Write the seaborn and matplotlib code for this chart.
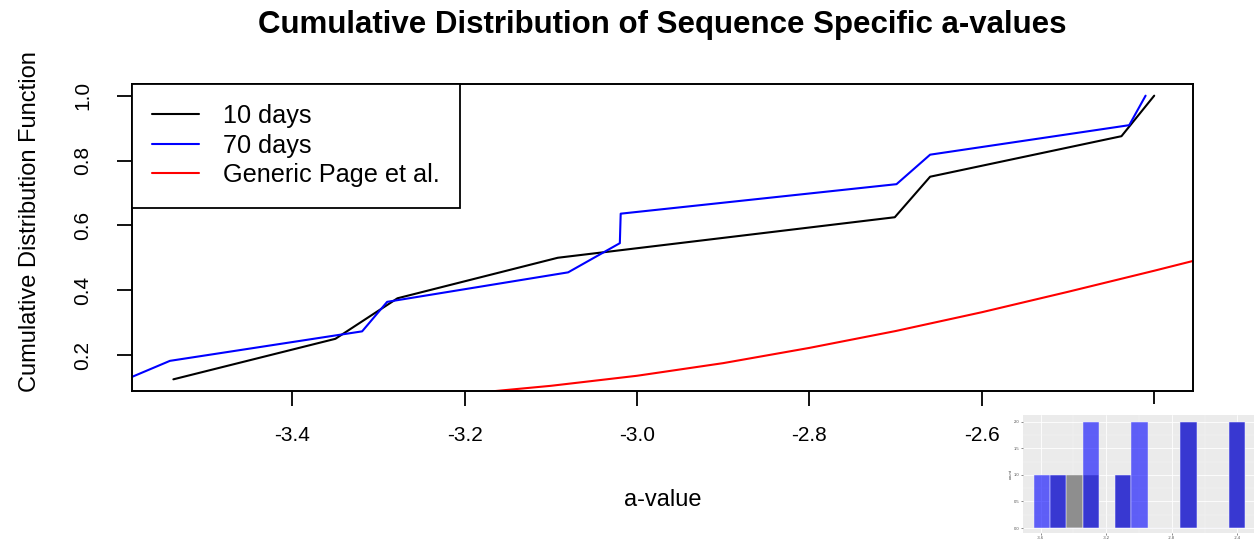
import numpy as np
import pandas as pd
import matplotlib
matplotlib.use("Agg")
import matplotlib.pyplot as plt
import seaborn as sns

# ---------------- data ----------------
title = "Cumulative Distribution of Sequence Specific a-values"
x_label = "a-value"
y_label = "Cumulative Distribution Function"
legend_labels = ["10 days", "70 days", "Generic Page et al."]

days10_a = [-3.538, -3.350, -3.278, -3.092, -2.701, -2.660, -2.438, -2.400]
days10_cdf = [0.125, 0.250, 0.375, 0.500, 0.625, 0.750, 0.875, 1.000]

days70_a = [-3.623, -3.542, -3.319, -3.290, -3.080, -3.020, -3.019,
            -2.699, -2.660, -2.429, -2.410]
days70_cdf = [0.091, 0.182, 0.273, 0.364, 0.455, 0.545, 0.636,
              0.727, 0.818, 0.909, 1.000]

page_a = [-3.25, -3.20, -3.10, -3.00, -2.90, -2.80, -2.70, -2.60, -2.50, -2.40, -2.30]
page_cdf = [0.066, 0.080, 0.105, 0.136, 0.175, 0.222, 0.274, 0.332, 0.395, 0.460, 0.527]

x_ticks = [-3.4, -3.2, -3.0, -2.8, -2.6, -2.4]
y_ticks = [0.2, 0.4, 0.6, 0.8, 1.0]

# small pasted histogram (lower right)
inset_bins = [-3.594, -3.496, -3.396, -3.296, -3.096, -2.997, -2.698, -2.399]
inset_gray = [0, 1, 1, 1, 1, 0, 2, 2]
inset_blue = [1, 1, 0, 2, 1, 2, 2, 2]
inset_xticks = [-3.6, -3.2, -2.8, -2.4]
inset_yticks = [0.0, 0.5, 1.0, 1.5, 2.0]

# ---------------- style ----------------
sns.set_theme(style="ticks")
plt.rcParams["font.family"] = ["Liberation Sans", "DejaVu Sans"]
plt.rcParams["axes.unicode_minus"] = False
for k in ["text.color", "axes.labelcolor", "xtick.color", "ytick.color", "axes.edgecolor"]:
    plt.rcParams[k] = "black"

W, H = 1254, 542
fig = plt.figure(figsize=(W / 100, H / 100), dpi=100)
fig.patch.set_facecolor("white")

L, R, T, B = 132, 1193, 84, 391
ax = fig.add_axes([L / W, 1 - B / H, (R - L) / W, (B - T) / H])
ax.set_facecolor("white")

sns.lineplot(x=days10_a, y=days10_cdf, color="black", lw=1.5, estimator=None,
             sort=False, ax=ax, label=legend_labels[0])
sns.lineplot(x=days70_a, y=days70_cdf, color="#0000FF", lw=1.5, estimator=None,
             sort=False, ax=ax, label=legend_labels[1])
sns.lineplot(x=page_a, y=page_cdf, color="#FF0000", lw=1.5, estimator=None,
             sort=False, ax=ax, label=legend_labels[2])

ax.set_xlim(-3.586, -2.355)
ax.set_ylim(0.089, 1.036)
ax.set_xticks(x_ticks)
ax.set_xticklabels([f"{v:.1f}" for v in x_ticks], fontsize=15)
ax.set_yticks(y_ticks)
ax.set_yticklabels([f"{v:.1f}" for v in y_ticks], fontsize=15, rotation=90, va="center")
ax.tick_params(axis="both", length=10.8, width=1.3, color="black", labelcolor="black")
ax.tick_params(axis="y", pad=18)
ax.tick_params(axis="x", pad=14.5)
for s in ax.spines.values():
    s.set_visible(True)
    s.set_color("black")
    s.set_linewidth(1.4)

ax.set_xlabel(x_label, fontsize=17, va="center", color="black")
ax.xaxis.set_label_coords(0.5, -(500 - B) / (B - T))
ax.set_ylabel(y_label, fontsize=17, va="center", color="black")
ax.yaxis.set_label_coords(-(L - 30) / (R - L), (B - 222) / (B - T))

fig.text(((L + R) / 2) / W, 1 - 25 / H, title, ha="center", va="center",
         fontsize=22.5, fontweight="bold", color="black")

leg = ax.legend(loc="upper left", bbox_to_anchor=(0, 1), borderaxespad=0,
                frameon=True, fancybox=False, framealpha=1, edgecolor="black",
                fontsize=18.2, handlelength=1.86, handletextpad=0.95,
                borderpad=0.8, labelspacing=0.22)
leg.get_frame().set_linewidth(1.3)
for t in leg.get_texts():
    t.set_color("black")

# ---------------- pasted ggplot histogram ----------------
cont = fig.add_axes([1010 / W, 0, (W - 1010) / W, (H - 404) / H])
cont.set_facecolor("white")
cont.set_xticks([]); cont.set_yticks([])
for s in cont.spines.values():
    s.set_visible(False)

pl, pr, pt, pb = 1023, 1254, 415, 533
ins = fig.add_axes([pl / W, 1 - pb / H, (pr - pl) / W, (pb - pt) / H])
ins.set_facecolor("#EBEBEB")
sns.histplot(x=inset_bins, weights=inset_gray, binwidth=0.0995,
             binrange=(-3.643, -2.35), color="#8E8E8E", alpha=1.0,
             edgecolor="#F4F4F4", linewidth=0.3, ax=ins)
sns.histplot(x=inset_bins, weights=inset_blue, binwidth=0.0995,
             binrange=(-3.643, -2.35), color="#0000FF", alpha=0.6,
             edgecolor="#F4F4FF", linewidth=0.3, ax=ins)
ins.set_xlim(-3.708, -2.298)
ins.set_ylim(-0.094, 2.125)
ins.set_xticks(inset_xticks)
ins.set_xticklabels([f"{v:.1f}" for v in inset_xticks], fontsize=3, color="#4D4D4D")
ins.set_yticks(inset_yticks)
ins.set_yticklabels([f"{v:.1f}" for v in inset_yticks], fontsize=3, color="#4D4D4D")
ins.set_xticks([-3.4, -3.0, -2.6], minor=True)
ins.set_yticks([0.25, 0.75, 1.25, 1.75], minor=True)
ins.grid(True, which="major", color="white", lw=0.6)
ins.grid(True, which="minor", color="#F5F5F5", lw=0.3)
ins.set_axisbelow(True)
ins.tick_params(axis="both", which="major", length=1.5, width=0.4, color="#333333", pad=1)
ins.tick_params(axis="both", which="minor", length=0)
for s in ins.spines.values():
    s.set_visible(False)
ins.set_xlabel("")
ins.set_ylabel("count", fontsize=3, labelpad=1, color="#333333")

fig.savefig("out.png", dpi=100, facecolor="white")
